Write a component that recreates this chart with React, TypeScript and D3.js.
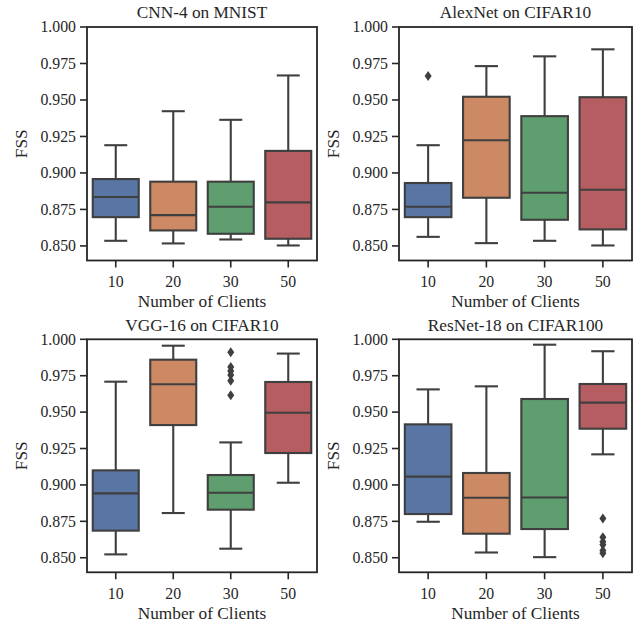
import React from "react";
import * as d3 from "d3";

const clients = ["10", "20", "30", "50"];
const yTicks = [0.85, 0.875, 0.9, 0.925, 0.95, 0.975, 1.0];
const yDomain = [0.84, 1.0];
const panelTitles = ["CNN-4 on MNIST", "AlexNet on CIFAR10", "VGG-16 on CIFAR10", "ResNet-18 on CIFAR100"];
const palette = ["#5975a4", "#cc8963", "#5f9e6e", "#b55d60"];

// each box: [whiskerLow, q1, median, q3, whiskerHigh]
const cnnMnist = [
  [0.8535, 0.8697, 0.8835, 0.8958, 0.919],
  [0.8517, 0.8606, 0.8711, 0.894, 0.9423],
  [0.8544, 0.8583, 0.8768, 0.894, 0.9364],
  [0.8503, 0.8549, 0.8798, 0.9151, 0.9668],
];
const cnnMnistOutliers: number[][] = [[], [], [], []];

const alexCifar10 = [
  [0.8562, 0.8697, 0.8768, 0.8931, 0.919],
  [0.8519, 0.883, 0.9224, 0.9522, 0.9732],
  [0.8535, 0.8679, 0.8864, 0.9389, 0.9799],
  [0.8503, 0.8613, 0.8885, 0.9519, 0.9847],
];
const alexCifar10Outliers: number[][] = [[0.9664], [], [], []];

const vggCifar10 = [
  [0.8523, 0.8686, 0.8942, 0.91, 0.9709],
  [0.8807, 0.9411, 0.9691, 0.986, 0.9956],
  [0.8562, 0.883, 0.8946, 0.9068, 0.9292],
  [0.9015, 0.9219, 0.9496, 0.9707, 0.9902],
];
const vggCifar10Outliers: number[][] = [[], [], [0.9911, 0.981, 0.9782, 0.9755, 0.9716, 0.9615], []];

const resnetCifar100 = [
  [0.8747, 0.88, 0.9057, 0.9416, 0.9656],
  [0.8536, 0.8665, 0.8912, 0.9082, 0.9677],
  [0.8504, 0.8697, 0.8914, 0.959, 0.9963],
  [0.921, 0.9386, 0.9565, 0.9693, 0.9918],
];
const resnetCifar100Outliers: number[][] = [[], [], [], [0.877, 0.864, 0.861, 0.859, 0.855, 0.853]];

const panelBoxes = [cnnMnist, alexCifar10, vggCifar10, resnetCifar100];
const panelOutliers = [cnnMnistOutliers, alexCifar10Outliers, vggCifar10Outliers, resnetCifar100Outliers];

const frames = [
  { left: 87, right: 317, top: 27, bottom: 260.5 },
  { left: 399, right: 632, top: 27, bottom: 260.5 },
  { left: 87, right: 317, top: 339.3, bottom: 572.3 },
  { left: 399, right: 632, top: 339.3, bottom: 572.3 },
];

const FONT = "Liberation Serif";
const LINE = "#3f3f3f";
const AXIS = "#262626";
const TEXT = "#262626";
const TICK_FS = 15.8;
const LABEL_FS = 17.3;

function Panel({ idx }: { idx: number }) {
  const f = frames[idx];
  const x = d3.scaleBand<string>().domain(clients).range([f.left, f.right]).padding(0);
  const y = d3.scaleLinear().domain(yDomain).range([f.bottom, f.top]);
  const bw = x.bandwidth() * 0.8;
  const boxes = panelBoxes[idx];
  const outs = panelOutliers[idx];
  const tick = 7;
  return (
    <g>
      {boxes.map((b, i) => {
        const cx = (x(clients[i]) as number) + x.bandwidth() / 2;
        const [lo, q1, md, q3, hi] = b;
        return (
          <g key={i}>
            <line x1={cx} x2={cx} y1={y(q3)} y2={y(hi)} stroke={LINE} strokeWidth={2.1} />
            <line x1={cx} x2={cx} y1={y(q1)} y2={y(lo)} stroke={LINE} strokeWidth={2.1} />
            <line x1={cx - bw / 4} x2={cx + bw / 4} y1={y(hi)} y2={y(hi)} stroke={LINE} strokeWidth={2.1} />
            <line x1={cx - bw / 4} x2={cx + bw / 4} y1={y(lo)} y2={y(lo)} stroke={LINE} strokeWidth={2.1} />
            <rect x={cx - bw / 2} y={y(q3)} width={bw} height={y(q1) - y(q3)} fill={palette[i]} stroke={LINE} strokeWidth={2.1} />
            <line x1={cx - bw / 2} x2={cx + bw / 2} y1={y(md)} y2={y(md)} stroke={LINE} strokeWidth={2.1} />
            {outs[i].map((v, k) => (
              <path key={k} d={`M${cx},${y(v) - 5} L${cx + 3.5},${y(v)} L${cx},${y(v) + 5} L${cx - 3.5},${y(v)} Z`} fill={LINE} />
            ))}
          </g>
        );
      })}
      <rect x={f.left} y={f.top} width={f.right - f.left} height={f.bottom - f.top} fill="none" stroke={AXIS} strokeWidth={1.8} />
      {yTicks.map((t) => (
        <g key={t}>
          <line x1={f.left - tick} x2={f.left} y1={y(t)} y2={y(t)} stroke={AXIS} strokeWidth={1.6} />
          <text x={f.left - tick - 4} y={y(t)} dy="0.34em" textAnchor="end" fontSize={TICK_FS} fill={TEXT} fontFamily={FONT}>
            {d3.format(".3f")(t)}
          </text>
        </g>
      ))}
      {clients.map((c) => {
        const cx = (x(c) as number) + x.bandwidth() / 2;
        return (
          <g key={c}>
            <line x1={cx} x2={cx} y1={f.bottom} y2={f.bottom + tick} stroke={AXIS} strokeWidth={1.6} />
            <text x={cx} y={f.bottom + 26.5} textAnchor="middle" fontSize={TICK_FS} fill={TEXT} fontFamily={FONT}>
              {c}
            </text>
          </g>
        );
      })}
      <text x={(f.left + f.right) / 2} y={f.bottom + 46.5} textAnchor="middle" fontSize={LABEL_FS} fill={TEXT} fontFamily={FONT}>
        Number of Clients
      </text>
      <text
        transform={`translate(${f.left - 60.5},${(f.top + f.bottom) / 2}) rotate(-90)`}
        textAnchor="middle"
        fontSize={LABEL_FS}
        fill={TEXT}
        fontFamily={FONT}
      >
        FSS
      </text>
      <text x={(f.left + f.right) / 2} y={f.top - 8.7} textAnchor="middle" fontSize={LABEL_FS} fill={TEXT} fontFamily={FONT}>
        {panelTitles[idx]}
      </text>
    </g>
  );
}

export default function App() {
  return (
    <svg width={644} height={624} style={{ position: "absolute", left: 0, top: 0, background: "#fff" }}>
      <rect x={0} y={0} width={644} height={624} fill="#fff" />
      {[0, 1, 2, 3].map((i) => (
        <Panel key={i} idx={i} />
      ))}
    </svg>
  );
}
